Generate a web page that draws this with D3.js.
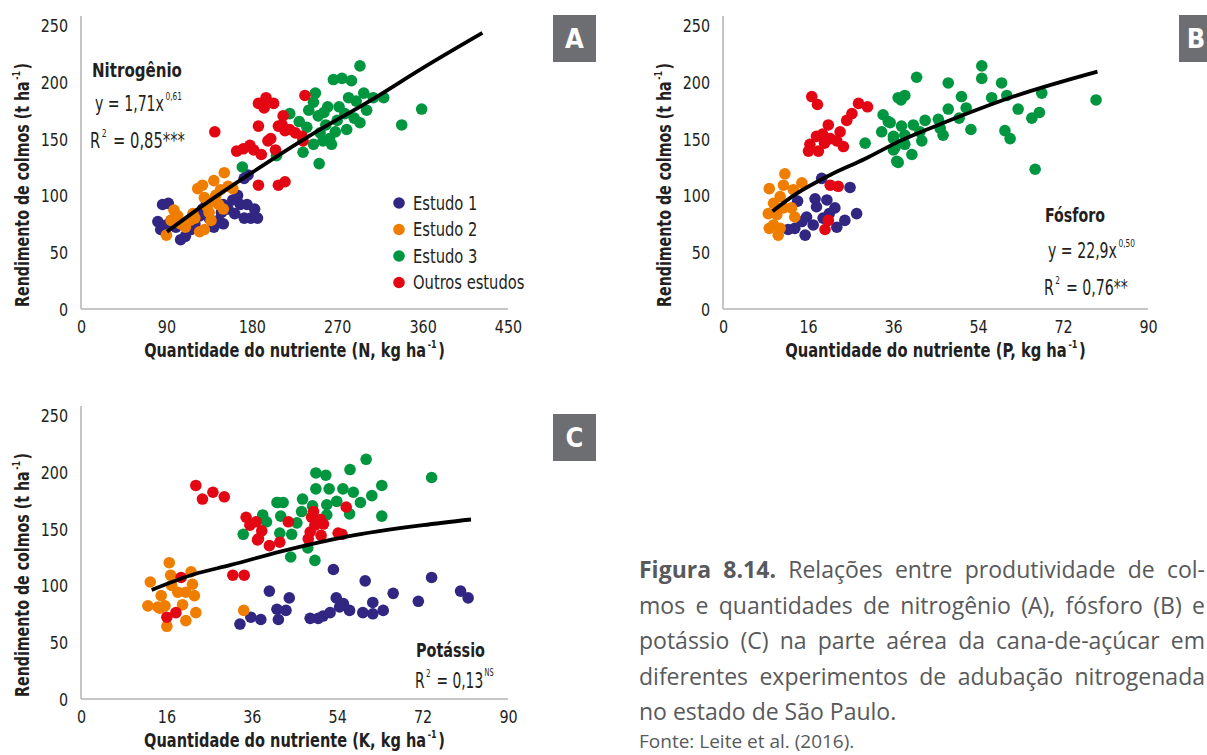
<!DOCTYPE html>
<html>
<head>
<meta charset="utf-8">
<script src="https://cdn.jsdelivr.net/npm/d3@7.9.0/dist/d3.min.js"></script>
<style>
  body { margin: 0; background: #fff; }
  svg text { fill: #231f20; font-family: "Liberation Sans Narrow", "DejaVu Sans Condensed", sans-serif; }
  .caption text { fill: #58595b; font-family: "Open Sans", "Noto Sans", sans-serif; }
</style>
</head>
<body>
<svg id="chart" width="1207" height="755"></svg>
<script>
// ---------- DATA ---------- //
const seriesNames = ['Estudo 1', 'Estudo 2', 'Estudo 3', 'Outros estudos'];
const seriesColors = ['#312783', '#ef7d00', '#00963f', '#e30613'];
const yTicks = [0, 50, 100, 150, 200, 250];

// A - nitrogen
const xTicksN = [0, 90, 180, 270, 360, 450];
const xLabelsN = ['0', '90', '180', '270', '360', '450'];
const nEstudo1 = [[86,92],[92,93],[81,77],[84,70],[90,74],[95,78],[100,72],[105,61],[110,64],[116,70],[120,75],
  [125,82],[128,88],[132,92],[135,80],[140,72],[145,78],[148,85],[150,92],[155,88],[160,96],[162,84],[165,100],
  [168,92],[172,80],[175,92],[179,80],[183,88],[186,80],[172,115],[176,118],[150,75]];
const nEstudo2 = [[90,65],[95,78],[98,87],[102,82],[105,75],[110,72],[115,78],[120,80],[123,106],[128,109],
  [130,98],[133,90],[135,85],[137,78],[130,70],[140,113],[142,100],[145,92],[150,88],[151,120],[155,108],
  [160,106],[125,68],[118,84],[138,95],[147,105]];
const nEstudo3 = [[170,125],[206,135],[220,172],[230,165],[234,138],[238,160],[240,175],[245,182],[247,190],
  [250,170],[251,128],[252,155],[255,148],[258,162],[260,178],[262,150],[264,145],[266,202],[270,166],[272,178],
  [275,203],[278,172],[280,158],[282,186],[285,201],[288,168],[290,183],[294,214],[294,164],[298,190],[301,175],
  [308,186],[319,186],[338,162],[359,176],[245,145],[268,156],[256,173]];
const nOutros = [[141,156],[164,139],[171,141],[178,144],[182,140],[187,161],[187,181],[190,136],[193,177],
  [195,186],[197,148],[200,150],[203,181],[205,140],[208,161],[213,170],[215,157],[220,158],[226,155],[233,152],
  [234,148],[236,188],[187,109],[208,109],[215,112],[195,183],[212,162]];
const trendN = [[90.6,68],[125,89],[180,120],[240,152],[308,185],[360,212],[423,243]];

// B - phosphorus (the reference labels the 18 tick as "16")
const xTicksP = [0, 18, 36, 54, 72, 90];
const xLabelsP = ['0', '16', '36', '54', '72', '90'];
const pEstudo1 = [[20.9,115],[19.5,97],[22,96],[19.8,90],[23.7,89],[26.9,107],[17.7,81],[16.7,77],[15.2,71],
  [13.8,70],[17.4,65],[19.1,74],[21.2,80],[24.1,72],[25.8,78],[28.3,84],[22.5,84],[15.8,95]];
const pEstudo2 = [[9.8,106],[13.1,119],[12.8,109],[14.9,105],[16.7,111],[12.1,99],[10.7,93],[9.6,84],[11.4,83],
  [12.8,89],[14.5,89],[15.2,81],[10.7,74],[12.1,71],[11.7,65],[9.8,71]];
const pEstudo3 = [[37.1,186],[33.9,171],[35.4,164],[33.6,156],[36.1,152],[30.1,146],[36.4,142],[36.8,130],
  [54.8,214],[54.8,203],[41,204],[47.7,199],[59,199],[60.1,188],[67.5,190],[56.9,186],[50.5,187],[38.5,188],
  [37.7,184],[47.7,176],[51.5,177],[62.5,176],[67,173],[65.4,168],[35,165],[42.8,166],[45.6,167],[50,168],
  [40.3,162],[37.8,161],[38.5,153],[41.7,156],[46,159],[46.6,153],[52.5,158],[59.7,157],[60.8,150],[36.1,150],
  [42.1,148],[38.5,145],[36.1,140],[40,136],[37.1,129],[66.1,123],[79,184]];
const pOutros = [[18.8,187],[20,180],[28.7,181],[30.6,178],[27.3,172],[26.2,166],[22.3,162],[24.8,156],[19.8,152],
  [21.1,154],[22.7,150],[24.1,148],[25.5,143],[18.4,145],[18.1,139],[20.2,139],[21.5,146],[22.7,109],[24.4,108],
  [22.3,78],[21.6,70]];
const trendP = [[10.5,86],[15,100],[22.7,118],[30,132],[37.5,148],[47.4,165],[61.5,187],[79.3,209]];

// C - potassium
const xTicksK = [0, 18, 36, 54, 72, 90];
const xLabelsK = ['0', '16', '36', '54', '72', '90'];
const kEstudo1 = [[53.2,114],[59.9,104],[73.9,107],[39.7,95],[43.9,89],[65.8,93],[80,95],[81.6,89],[53.8,89],
  [55.3,84],[56.6,78],[61.5,85],[63.7,78],[59.4,76],[61.5,75],[71.1,86],[52.5,76],[51,73],[50,71],[48.3,71],
  [41.3,79],[43.2,78],[41.6,70],[37.9,70],[35.8,72],[33.5,66],[54.5,81]];
const kEstudo2 = [[18.6,120],[14.6,103],[18.9,109],[23.2,112],[23.5,101],[16.9,91],[20.4,94],[22.1,94],[23.9,91],
  [14.1,82],[16.2,81],[17.7,82],[21.4,83],[24.2,76],[22.1,69],[18.1,64],[34.3,78],[16.6,80],[19.1,100]];
const kEstudo3 = [[60.1,211],[73.9,195],[49.5,199],[51.6,197],[56.7,202],[49.5,185],[52.3,185],[55.2,185],
  [63.4,188],[57.4,182],[61.3,179],[58.9,173],[53.9,174],[46.7,176],[41.3,173],[42.6,173],[48.8,170],[51.8,171],
  [46.5,165],[51.8,162],[56.6,163],[63.4,161],[38.3,162],[39.1,156],[42.1,161],[45.5,155],[34.2,145],[41.9,146],
  [44.4,145],[44.2,125],[47.8,133],[49.3,122],[41.5,173]];
const kOutros = [[24.2,188],[27.8,182],[25.6,176],[30.2,178],[34.8,160],[35.6,153],[38.1,148],[37.2,140],
  [39.7,135],[21.1,107],[32,109],[34.4,109],[20,76],[18.1,72],[43.7,156],[48.6,160],[49.3,153],[51.1,154],
  [48.3,147],[50.6,144],[55.9,169],[54.2,146],[47.9,141],[41.9,138],[37.4,141],[55,145],[36.9,156],[49,165],
  [50.5,158]];
const trendK = [[14.9,96],[24,110],[31.6,118],[42.2,130],[56,143],[72,153],[82.2,158]];

const captionLines = [
  'Relações entre produtividade de col-',
  'mos e quantidades de nitrogênio (A), fósforo (B) e',
  'potássio (C) na parte aérea da cana-de-açúcar em',
  'diferentes experimentos de adubação nitrogenada',
  'no estado de São Paulo.'
];

// ---------- DRAWING ---------- //
const svg = d3.select('#chart');
const axisGray = '#b3b3b3';

// squeeze a plain text horizontally (reference uses a condensed face)
function squeeze(sel, k) {
  sel.each(function () {
    const w = this.getComputedTextLength();
    d3.select(this).attr('textLength', w * k).attr('lengthAdjust', 'spacingAndGlyphs');
  });
}
// squeeze a text with tspans by scaling it about its anchor point
function scaleTo(t, w, base) {
  const k = w / t.node().getBBox().width;
  const xp = +t.attr('x') || 0, yp = +t.attr('y') || 0;
  t.attr('transform', (base || '') + ` translate(${xp},${yp}) scale(${k},1) translate(${-xp},${-yp})`);
}
// main text + small raised part + closing text
function withSup(t, before, sup, after, size, rise) {
  t.append('tspan').text(before);
  t.append('tspan').attr('font-size', size).attr('dx', 2).attr('dy', -rise).text(sup);
  if (after !== null) t.append('tspan').attr('dx', 2).attr('dy', rise).text(after);
}

const panels = [
  { tag: 'A', nutrient: 'N', left: 81, right: 508, top: 25, bottom: 309, xMax: 450,
    ticks: xTicksN, labels: xLabelsN, series: [nEstudo1, nEstudo2, nEstudo3, nOutros], trend: trendN,
    box: [553, 15], titleX: 29 },
  { tag: 'B', nutrient: 'P', left: 723, right: 1148, top: 25, bottom: 309, xMax: 90,
    ticks: xTicksP, labels: xLabelsP, series: [pEstudo1, pEstudo2, pEstudo3, pOutros], trend: trendP,
    box: [1179, 15], titleX: 671 },
  { tag: 'C', nutrient: 'K', left: 81, right: 508, top: 415, bottom: 699, xMax: 90,
    ticks: xTicksK, labels: xLabelsK, series: [kEstudo1, kEstudo2, kEstudo3, kOutros], trend: trendK,
    box: [553, 414], titleX: 29 }
];

panels.forEach((p) => {
  const x = d3.scaleLinear().domain([0, p.xMax]).range([p.left, p.right]);
  const y = d3.scaleLinear().domain([0, 250]).range([p.bottom, p.top]);
  const g = svg.append('g');

  // axis lines
  g.append('line').attr('x1', p.left).attr('x2', p.left).attr('y1', p.bottom).attr('y2', p.top - 9)
    .attr('stroke', axisGray).attr('stroke-width', 1.5);
  g.append('line').attr('x1', p.left).attr('x2', p.right).attr('y1', p.bottom).attr('y2', p.bottom)
    .attr('stroke', axisGray).attr('stroke-width', 1.5);

  const yAxis = g.append('g').attr('transform', `translate(${p.left},0)`)
    .call(d3.axisLeft(y).tickValues(yTicks).tickSize(0).tickPadding(13));
  const xAxis = g.append('g').attr('transform', `translate(0,${p.bottom})`)
    .call(d3.axisBottom(x).tickValues(p.ticks).tickSize(0).tickPadding(11)
      .tickFormat((d, i) => p.labels[i]));
  [yAxis, xAxis].forEach((a) => {
    a.select('.domain').remove();
    a.selectAll('text').attr('font-size', 18.5).attr('font-family', null).attr('fill', '#231f20');
    squeeze(a.selectAll('text'), 0.86);
  });
  yAxis.selectAll('text').attr('dy', '0.35em');

  // axis titles
  const yt = g.append('text')
    .attr('text-anchor', 'middle').attr('font-size', 20).attr('font-weight', 'bold');
  withSup(yt, 'Rendimento de colmos (t ha', '-1', ')', 11, 9);
  scaleTo(yt, 244, `translate(${p.titleX},${(p.top + p.bottom) / 2 + 18}) rotate(-90)`);

  const xt = g.append('text')
    .attr('x', (p.left + p.right) / 2).attr('y', p.bottom + 48)
    .attr('text-anchor', 'middle').attr('font-size', 20).attr('font-weight', 'bold');
  withSup(xt, `Quantidade do nutriente (${p.nutrient}, kg ha`, '-1', ')', 11, 9);
  scaleTo(xt, 301);

  // points
  p.series.forEach((pts, si) => {
    g.append('g').selectAll('circle').data(pts).join('circle')
      .attr('cx', (d) => x(d[0])).attr('cy', (d) => y(d[1])).attr('r', 5.8)
      .attr('fill', seriesColors[si]);
  });

  // fitted curve
  const line = d3.line().x((d) => x(d[0])).y((d) => y(d[1])).curve(d3.curveMonotoneX);
  g.append('path').attr('d', line(p.trend)).attr('fill', 'none')
    .attr('stroke', '#000').attr('stroke-width', 3.8);

  // panel letter box
  g.append('rect').attr('x', p.box[0]).attr('y', p.box[1]).attr('width', 43).attr('height', 47)
    .attr('fill', '#6d6e71');
  const cx = Math.min(p.box[0] + 21.5, 1196);
  g.append('text').attr('x', cx).attr('y', p.box[1] + 33).attr('text-anchor', 'middle')
    .attr('font-size', 27).attr('font-weight', 'bold').style('fill', '#fff').text(p.tag);
});

// annotations
function label(xp, yp, txt, w) {
  const t = svg.append('text').attr('x', xp).attr('y', yp).attr('font-size', 20)
    .attr('font-weight', 'bold').text(txt);
  scaleTo(t, w);
}
function equation(xp, yp, base, exp, w) {
  const t = svg.append('text').attr('x', xp).attr('y', yp).attr('font-size', 21);
  withSup(t, base, exp, null, 11, 11);
  scaleTo(t, w);
}
function r2(xp, yp, val, sig, sigSup, w) {
  const t = svg.append('text').attr('x', xp).attr('y', yp).attr('font-size', 21);
  withSup(t, 'R', '2', ' = ' + val + (sigSup ? '' : sig), 11, 11);
  if (sigSup) t.append('tspan').attr('font-size', 10).attr('dx', 2).attr('dy', -12).text(sig);
  scaleTo(t, w);
}

label(92, 77, 'Nitrogênio', 90);
equation(95, 111, 'y = 1,71x', '0,61', 87);
r2(90, 148, '0,85', '***', false, 95);

label(1045, 222, 'Fósforo', 60);
equation(1048, 258, 'y = 22,9x', '0,50', 87);
r2(1044, 295, '0,76', '**', false, 84);

label(416, 657, 'Potássio', 69);
r2(415, 688, '0,13', 'NS', true, 79);

// legend (panel A)
const legend = svg.append('g');
seriesNames.forEach((name, i) => {
  const ly = 203 + i * 26.5;
  legend.append('circle').attr('cx', 399).attr('cy', ly).attr('r', 5.8).attr('fill', seriesColors[i]);
  const t = legend.append('text').attr('x', 413).attr('y', ly + 6.5).attr('font-size', 19).text(name);
  squeeze(t, 0.86);
});

// caption (justified)
const cap = svg.append('g').attr('class', 'caption');
const capLeft = 639, capRight = 1205;
captionLines.forEach((txt, i) => {
  const t = cap.append('text').attr('x', capLeft).attr('y', 578 + i * 35.5).attr('font-size', 23);
  if (i === 0) {
    t.append('tspan').attr('font-weight', 'bold').text('Figura 8.14.');
    t.append('tspan').text(' ' + txt);
  } else {
    t.text(txt);
  }
  if (i < captionLines.length - 1) {
    const gaps = t.text().split(' ').length - 1;
    const extra = (capRight - capLeft - t.node().getComputedTextLength()) / gaps;
    t.style('word-spacing', extra + 'px');
  }
});
cap.append('text').attr('x', capLeft).attr('y', 748).attr('font-size', 19).text('Fonte: Leite et al. (2016).');
</script>
</body>
</html>
